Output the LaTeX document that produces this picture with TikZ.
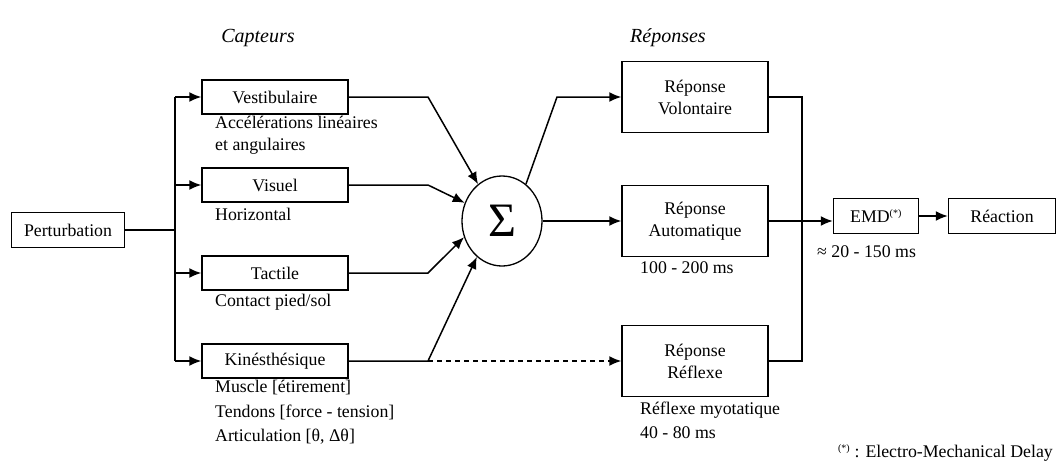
\documentclass[tikz,border=0pt]{standalone}
\usepackage{fontspec}
\setmainfont{Liberation Serif}
\usepackage{tikz}
\usetikzlibrary{shapes,arrows.meta,calc}
\tikzstyle{block} = [rectangle, draw, line width=1.5pt, text centered,
    inner sep=0pt, minimum width=113pt, minimum height=35pt]
\tikzstyle{sensor} = [block, minimum width=146pt, minimum height=34pt]
\tikzstyle{answer} = [block, align=center, minimum width=146pt, minimum height=71pt]
\tikzstyle{sumnode} = [ellipse, draw, line width=1.3pt, minimum width=80pt,
    minimum height=90pt, inner sep=0pt]
\tikzstyle{note} = [inner sep=0pt, align=left]
\tikzstyle{line} = [draw, line width=1.5pt, -{Latex[length=12pt,width=10pt]}]
\tikzstyle{wire} = [draw, line width=1.5pt]

\begin{document}
\begin{tikzpicture}[x=1pt, y=-1pt, node distance=88pt, auto,
    font=\fontsize{17.8}{22}\selectfont]
    \useasboundingbox (0,0) rectangle (1058,464);
    % Place nodes
    \node [block] (pert) at (68,230) {Perturbation};
    \node [sensor] (vest) at (275,97) {Vestibulaire};
    \node [sensor, below of=vest] (vis) {Visuel};
    \node [sensor, below of=vis] (tact) {Tactile};
    \node [sensor, below of=tact] (kin) {Kinésthésique};
    \node [sumnode] (sum) at (502,221) {\fontsize{48}{48}\selectfont Σ};
    \node [answer] (vol) at (695,97) {Réponse\\Volontaire};
    \node [answer] (auto) at (695,221) {Réponse\\Automatique};
    \node [answer] (refl) at (695,361) {Réponse\\Réflexe};
    \node [block, minimum width=85pt] (emd) at (876,216) {EMD\textsuperscript{\fontsize{10}{10}\selectfont(*)}};
    \node [block, minimum width=107pt] (react) at (1002,216) {Réaction};
    % Texts
    \node [font=\fontsize{20}{24}\itshape] (capt) at (258,38) {Capteurs};
    \node [font=\fontsize{20}{24}\itshape] (rep) at (668,38) {Réponses};
    \node [note, anchor=north west] (vestnote) at (215,116) {Accélérations linéaires\\et angulaires};
    \node [note, anchor=west] (visnote) at (215,214) {Horizontal};
    \node [note, anchor=west] (tactnote) at (215,302) {Contact pied/sol};
    \node [note, anchor=north west, font=\fontsize{17.8}{24.5}\selectfont] (kinnote) at (215,380)
        {Muscle [étirement]\\Tendons [force - tension]\\Articulation [θ, Δθ]};
    \node [note, anchor=west] (autonote) at (640,268) {100 - 200 ms};
    \node [note, anchor=north west, font=\fontsize{17.8}{24}\selectfont] (reflnote) at (640,402)
        {Réflexe myotatique\\40 - 80 ms};
    \node [note, anchor=west] (emdnote) at (817,252) {≈ 20 - 150 ms};
    \node [note, anchor=east] (foot) at (1053,453)
        {\textsuperscript{\fontsize{10}{10}\selectfont(*)} : Electro-Mechanical Delay};
    % Bends
    \coordinate (bus) at (175,230);
    \coordinate (k1) at (428,97);
    \coordinate (k2) at (428,185);
    \coordinate (k3) at (428,273);
    \coordinate (k4) at (428,361);
    \coordinate (k5) at (557,97);
    \coordinate (col) at (802,361);
    % Draw edges
    \path [wire] (pert) -- (bus);
    \path [wire] (bus |- vest) -- (bus |- kin);
    \path [line] (bus |- vest) -- (vest);
    \path [line] (bus |- vis) -- (vis);
    \path [line] (bus |- tact) -- (tact);
    \path [line] (bus |- kin) -- (kin);
    \path [line] (vest) -- (k1) -- (sum.123);
    \path [line] (vis) -- (k2) -- (sum.154);
    \path [line] (tact) -- (k3) -- (sum.203);
    \path [line] (kin) -- (k4) -- (sum.235);
    \path [line, dash pattern=on 5pt off 4pt] (k4) -- (refl);
    \path [line] (sum.57) -- (k5) -- (vol);
    \path [line] (sum) -- (auto);
    \path [wire] (vol) -| (col) -- (refl);
    \path [line] (auto) -- (auto -| emd.west);
    \path [line] (emd) -- (react);
\end{tikzpicture}
\end{document}
